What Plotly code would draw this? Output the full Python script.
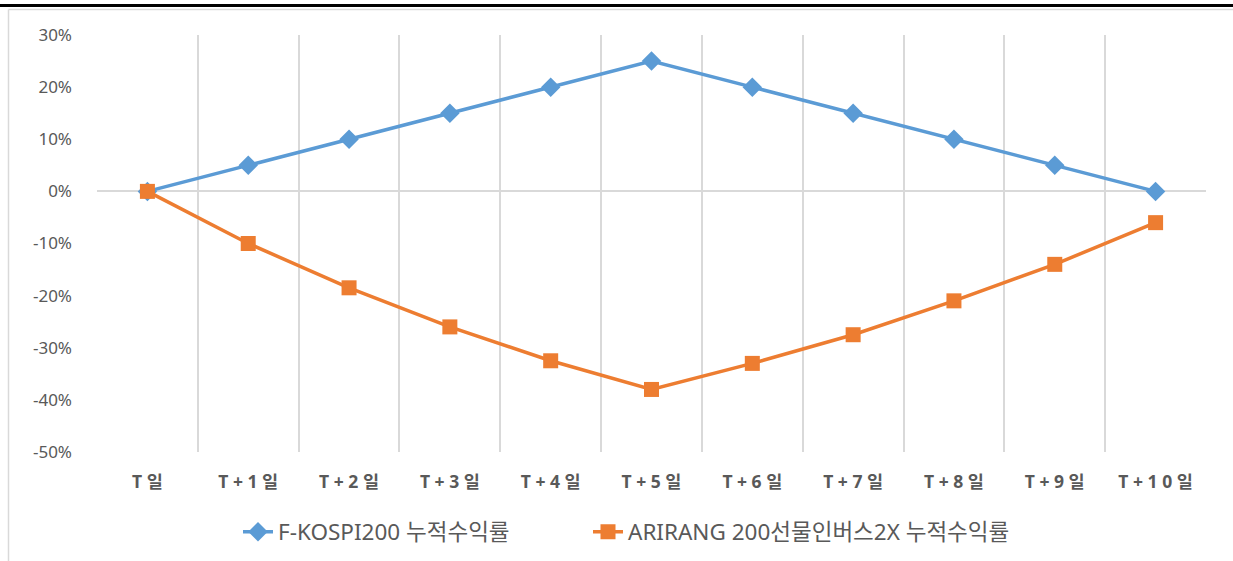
import plotly.graph_objects as go

categories = ["T일", "T+1일", "T+2일", "T+3일", "T+4일", "T+5일", "T+6일", "T+7일", "T+8일", "T+9일", "T+10일"]
tick_labels = ["T 일", "T + 1 일", "T + 2 일", "T + 3 일", "T + 4 일", "T + 5 일",
               "T + 6 일", "T + 7 일", "T + 8 일", "T + 9 일", "T + 1 0 일"]
y_tick_vals = [0.3, 0.2, 0.1, 0.0, -0.1, -0.2, -0.3, -0.4, -0.5]
y_tick_text = ["30%", "20%", "10%", "0%", "-10%", "-20%", "-30%", "-40%", "-50%"]
kospi = [0.0, 0.05, 0.10, 0.15, 0.20, 0.25, 0.20, 0.15, 0.10, 0.05, 0.0]
arirang = [0.0, -0.10, -0.185, -0.26, -0.325, -0.38, -0.33, -0.275, -0.21, -0.14, -0.06]
name_kospi = "F-KOSPI200 누적수익률"
name_arirang = "ARIRANG 200선물인버스2X 누적수익률"

W, H = 1233, 561
L, R, T, B = 97, 27, 35, 109
pw, ph = W - L - R, H - T - B

FONT = "Noto Sans, Noto Sans CJK KR, sans-serif"
GREY = "#595959"

fig = go.Figure()
fig.add_trace(go.Scatter(
    x=categories, y=kospi, name=name_kospi, mode="lines+markers",
    line=dict(color="#5B9BD5", width=3.5),
    marker=dict(symbol="diamond", size=15, color="#5B9BD5"),
    legend="legend",
))
fig.add_trace(go.Scatter(
    x=categories, y=arirang, name=name_arirang, mode="lines+markers",
    line=dict(color="#ED7D31", width=3.5),
    marker=dict(symbol="square", size=15, color="#ED7D31"),
    legend="legend2",
))

def px_x(x):
    return (x - L) / pw

def px_y(y):
    return (H - B - y) / ph

shapes = [
    dict(type="line", xref="paper", yref="paper", x0=px_x(0), x1=px_x(W), y0=px_y(5.5), y1=px_y(5.5),
         line=dict(color="#000000", width=3)),
    dict(type="line", xref="paper", yref="paper", x0=px_x(8.5), x1=px_x(W), y0=px_y(9.5), y1=px_y(9.5),
         line=dict(color="#D9D9D9", width=1.5)),
    dict(type="line", xref="paper", yref="paper", x0=px_x(8.5), x1=px_x(8.5), y0=px_y(9.5), y1=px_y(H),
         line=dict(color="#D9D9D9", width=1.5)),
]

legend_common = dict(orientation="h", xanchor="left", y=px_y(532), yanchor="middle",
                     font=dict(size=22.5, color=GREY), bgcolor="rgba(0,0,0,0)")

fig.update_layout(
    width=W, height=H,
    margin=dict(l=L, r=R, t=T, b=B, autoexpand=False),
    paper_bgcolor="white", plot_bgcolor="white",
    font=dict(family=FONT, color=GREY, size=16),
    shapes=shapes,
    showlegend=True,
    legend=dict(x=px_x(238), **legend_common),
    legend2=dict(x=px_x(588), **legend_common),
    xaxis=dict(
        type="category", categoryorder="array", categoryarray=categories,
        tickvals=categories, ticktext=["<b>%s</b>" % t for t in tick_labels],
        tickson="boundaries", ticks="", showgrid=True, gridcolor="#D9D9D9", gridwidth=1.5,
        showline=False, zeroline=False, range=[-0.5, 10.5], automargin=False,
        tickfont=dict(size=17.5, color=GREY), ticklabelstandoff=17,
    ),
    yaxis=dict(
        range=[-0.5, 0.3], tickvals=y_tick_vals, ticktext=y_tick_text, automargin=False,
        showgrid=False, zeroline=True, zerolinecolor="#D9D9D9", zerolinewidth=1.5,
        showline=False, ticks="", tickfont=dict(size=17, color=GREY), ticklabelstandoff=24,
    ),
)

fig.write_html("out.html", config={"displayModeBar": False},
               post_script="document.body.style.margin='0';window.dispatchEvent(new Event('resize'));")
